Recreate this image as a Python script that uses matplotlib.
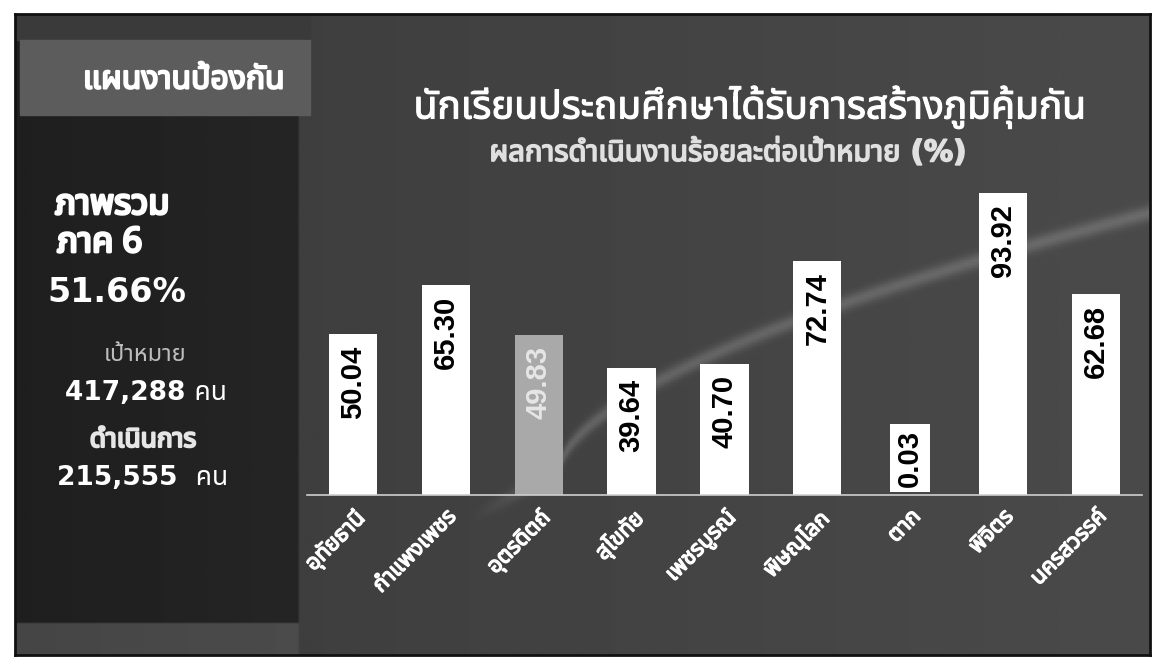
import numpy as np
import matplotlib.pyplot as plt
import matplotlib.patheffects as pe
from matplotlib import font_manager
from matplotlib.ft2font import FT2Font
from matplotlib.patches import Rectangle

provinces = ['อุทัยธานี', 'กำแพงเพชร', 'อุตรดิตถ์', 'สุโขทัย', 'เพชรบูรณ์',
             'พิษณุโลก', 'ตาก', 'พิจิตร', 'นครสวรรค์']
percent = [50.04, 65.30, 49.83, 39.64, 40.70, 72.74, 0.03, 93.92, 62.68]
highlight = 'อุตรดิตถ์'

title = 'นักเรียนประถมศึกษาได้รับการสร้างภูมิคุ้มกัน'
subtitle = 'ผลการดำเนินงานร้อยละต่อเป้าหมาย (%)'
plan_name = 'แผนงานป้องกัน'
overall_label = ['ภาพรวม', 'ภาค 6']
overall_pct = '51.66%'
target_label = 'เป้าหมาย'
target_value = '417,288 คน'
done_label = 'ดำเนินการ'
done_value = '215,555  คน'


# pick an installed font that actually has thai glyphs
def find_thai_font():
    names = []
    for f in font_manager.fontManager.ttflist:
        try:
            if ord('ก') in FT2Font(f.fname).get_charmap():
                names.append(f.name)
        except Exception:
            pass
    for pref in ['Tahoma', 'Noto Sans Thai', 'Noto Sans Thai UI', 'Loma', 'Garuda', 'Sarabun']:
        if pref in names:
            return pref
    return names[0] if names else 'DejaVu Sans'


thai = find_thai_font()
fam = [thai, 'DejaVu Sans']
num_fam = ['DejaVu Sans', thai]
W, H = 1162, 661


def fx(x):
    return x / W


def fy(y):
    return 1 - y / H


def heavy(color, w=1.0):
    # fake bold for the thai font
    return [pe.withStroke(linewidth=w, foreground=color)]


fig = plt.figure(figsize=(W / 100, H / 100), dpi=100)
fig.patch.set_facecolor('white')

# dark slide background
bg = fig.add_axes([fx(15), fy(655), fx(1150 - 15), (655 - 14) / H])
gx, gy = np.meshgrid(np.linspace(0, 1, 400), np.linspace(0, 1, 240))
shade = 0.23 + 0.06 * gx
shade = np.where(gx < 0.25, 0.12 + 0.1 * gx, shade)
shade = shade + 0.15 * (gy < 0.05) * (gx < 0.25)
t = np.clip((gx - 0.48) / 0.52, 0, 1)
line_y = 0.29 + 0.40 * t ** 0.6 - 0.12 * np.clip(0.48 - gx, 0, None) / 0.06 * 0.5
streak = np.exp(-((gy - line_y) / 0.012) ** 2) * np.clip((gx - 0.40) / 0.08, 0, 1)
shade = shade + 0.13 * streak
bg.imshow(shade, cmap='gray', vmin=0, vmax=1, aspect='auto', origin='lower',
          extent=[0, 1, 0, 1])
bg.add_patch(Rectangle((0, 0.96), 0.26, 0.04, color='#3a3a3a'))
bg.add_patch(Rectangle((0.004, 0.842), 0.256, 0.118, color='#5c5c5c'))
bg.set_xlim(0, 1)
bg.set_ylim(0, 1)
bg.set_xticks([])
bg.set_yticks([])
for s in bg.spines.values():
    s.set_color('#111111')
    s.set_linewidth(2)

# bar chart
ax = fig.add_axes([fx(306.5), fy(495), fx(1142.4 - 306.5), 325 / H])
ax.patch.set_alpha(0)
x = np.arange(len(provinces))
colors = ['#a9a9a9' if p == highlight else 'white' for p in provinces]
ax.bar(x, percent, width=0.52, color=colors, zorder=2)
ax.set_xlim(-0.5, len(provinces) - 0.5)
ax.set_ylim(0, 101.1)

for i, v in enumerate(percent):
    txt_color = '#e6e6e6' if provinces[i] == highlight else 'black'
    if v < 15:
        # tiny bar: label sits on top with its own white box
        ax.annotate(f'{v:.2f}', (i, v), xytext=(0, 6), textcoords='offset points',
                    rotation=90, ha='center', va='bottom', fontsize=21,
                    fontweight='bold', family='Liberation Sans', color=txt_color,
                    bbox=dict(boxstyle='square,pad=0.2', fc='white', ec='none'))
    else:
        ax.annotate(f'{v:.2f}', (i, v), xytext=(0, -8), textcoords='offset points',
                    rotation=90, ha='center', va='top', fontsize=21,
                    fontweight='bold', family='Liberation Sans', color=txt_color)

ax.set_xticks(x)
ax.set_xticklabels(provinces, rotation=45, ha='right', rotation_mode='anchor',
                   color='white', fontsize=16, fontweight='bold', family=fam,
                   path_effects=heavy('white', 1.0))
ax.tick_params(axis='x', length=0, pad=8)
ax.set_yticks([])
for side in ['top', 'left', 'right']:
    ax.spines[side].set_visible(False)
ax.spines['bottom'].set_color('#cfcfcf')
ax.spines['bottom'].set_linewidth(1.2)

# titles
fig.text(fx(750), fy(107), title, ha='center', va='center', color='white',
         fontsize=28, family=fam, path_effects=heavy('white', 0.8))
fig.text(fx(728), fy(153), subtitle, ha='center', va='center', color='#e0e0e0',
         fontsize=21, fontweight='bold', family=num_fam,
         path_effects=heavy('#e0e0e0', 1.2))

# left summary panel
fig.text(fx(184), fy(80), plan_name, ha='center', va='center', color='white',
         fontsize=23, fontweight='bold', family=fam, path_effects=heavy('white', 1.5))
fig.text(fx(55), fy(205), overall_label[0], ha='left', va='center', color='white',
         fontsize=25, fontweight='bold', family=fam, path_effects=heavy('white', 2))
fig.text(fx(57), fy(243), overall_label[1], ha='left', va='center', color='white',
         fontsize=25, fontweight='bold', family=fam, path_effects=heavy('white', 2))
fig.text(fx(47), fy(292), overall_pct, ha='left', va='center', color='white',
         fontsize=24, fontweight='bold', family=num_fam)
fig.text(fx(145), fy(355), target_label, ha='center', va='center', color='#bdbdbd',
         fontsize=17, family=fam)
fig.text(fx(146), fy(393), target_value, ha='center', va='center', color='white',
         fontsize=19, fontweight='bold', family=num_fam)
fig.text(fx(143), fy(440), done_label, ha='center', va='center', color='#e6e6e6',
         fontsize=19, fontweight='bold', family=fam, path_effects=heavy('#e6e6e6', 1.5))
fig.text(fx(143), fy(478), done_value, ha='center', va='center', color='white',
         fontsize=19, fontweight='bold', family=num_fam)

fig.savefig('out.png', dpi=100, facecolor=fig.get_facecolor())
